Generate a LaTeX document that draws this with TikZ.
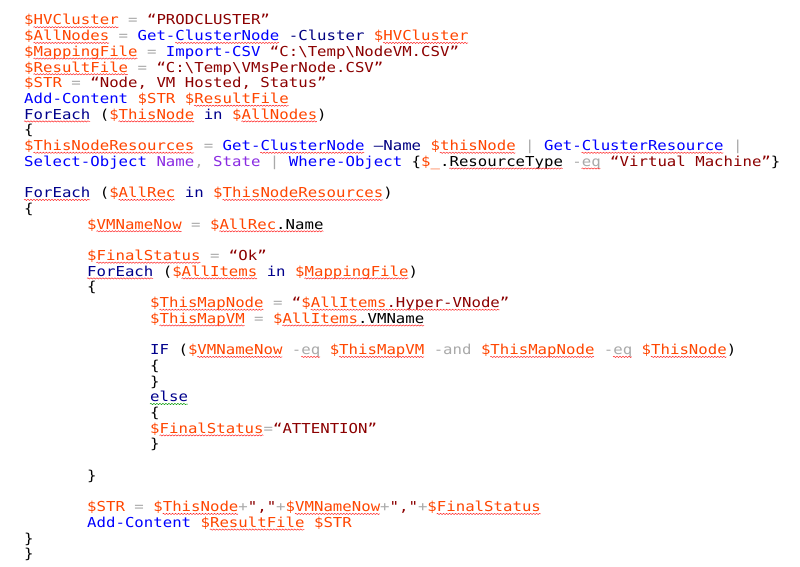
\documentclass[tikz,border=0pt]{standalone}
\usepackage{fontspec}
\usepackage{tikz}
\usetikzlibrary{decorations.pathmorphing}

\newfontfamily\psfont[FakeStretch=1.146]{DejaVu Sans Mono}
\definecolor{psvar}{HTML}{FF4500}
\definecolor{pscmd}{HTML}{0000FF}
\definecolor{pskey}{HTML}{00008B}
\definecolor{psstr}{HTML}{8B0000}
\definecolor{psop}{HTML}{A9A9A9}
\definecolor{psparam}{HTML}{000080}
\definecolor{psarg}{HTML}{8A2BE2}
\newcommand{\cvar}[1]{\textcolor{psvar}{#1}}
\newcommand{\ccmd}[1]{\textcolor{pscmd}{#1}}
\newcommand{\ckey}[1]{\textcolor{pskey}{#1}}
\newcommand{\cstr}[1]{\textcolor{psstr}{#1}}
\newcommand{\cop}[1]{\textcolor{psop}{#1}}
\newcommand{\cpar}[1]{\textcolor{psparam}{#1}}
\newcommand{\carg}[1]{\textcolor{psarg}{#1}}

\tikzset{
  code/.style={anchor=base west, inner sep=0pt, text=black,
    font=\psfont\fontsize{13.7}{15.7}\selectfont\frenchspacing},
  spell/.style={draw=red!85, line width=0.5pt, decorate,
    decoration={snake, amplitude=0.6pt, segment length=3pt}},
  grammar/.style={spell, draw=green!60!black}
}

\begin{document}
\begin{tikzpicture}[x=1pt, y=-1pt]
        \useasboundingbox (0,0) rectangle (800,567);
        % outer script
        \node[code] (l1) at (24,25) {\cvar{\$HVCluster} \cop{=} \cstr{“PRODCLUSTER”}};
        \node[code] (l2) at (24,40.7) {\cvar{\$AllNodes} \cop{=} \ccmd{Get-ClusterNode} \cpar{-Cluster} \cvar{\$HVCluster}};
        \node[code] (l3) at (24,56.4) {\cvar{\$MappingFile} \cop{=} \ccmd{Import-CSV} \cstr{“C:\textbackslash Temp\textbackslash NodeVM.CSV”}};
        \node[code] (l4) at (24,72.1) {\cvar{\$ResultFile} \cop{=} \cstr{“C:\textbackslash Temp\textbackslash VMsPerNode.CSV”}};
        \node[code] (l5) at (24,87.8) {\cvar{\$STR} \cop{=} \cstr{“Node, VM Hosted, Status”}};
        \node[code] (l6) at (24,103.5) {\ccmd{Add-Content} \cvar{\$STR} \cvar{\$ResultFile}};
        \node[code] (l7) at (24,119.2) {\ckey{ForEach} (\cvar{\$ThisNode} \ckey{in} \cvar{\$AllNodes})};
        \node[code] (l8) at (24,134.9) {\{};
        \node[code] (l9) at (24,150.6) {\cvar{\$ThisNodeResources} \cop{=} \ccmd{Get-ClusterNode} \cpar{–Name} \cvar{\$thisNode} \cop{|} \ccmd{Get-ClusterResource} \cop{|}};
        \node[code] (l10) at (24,166.3) {\ccmd{Select-Object} \carg{Name}\cop{,} \carg{State} \cop{|} \ccmd{Where-Object} \{\cvar{\$\_}.ResourceType \cop{-eq} \cstr{“Virtual Machine”}\}};
        % loop over resources
        \node[code] (l12) at (24,197.7) {\ckey{ForEach} (\cvar{\$AllRec} \ckey{in} \cvar{\$ThisNodeResources})};
        \node[code] (l13) at (24,213.4) {\{};
        \node[code] (l14) at (87,229.1) {\cvar{\$VMNameNow} \cop{=} \cvar{\$AllRec}.Name};
        \node[code] (l16) at (87,260.5) {\cvar{\$FinalStatus} \cop{=} \cstr{“Ok”}};
        \node[code] (l17) at (87,276.2) {\ckey{ForEach} (\cvar{\$AllItems} \ckey{in} \cvar{\$MappingFile})};
        \node[code] (l18) at (87,291.9) {\{};
        \node[code] (l19) at (150,307.6) {\cvar{\$ThisMapNode} \cop{=} \cstr{“}\cvar{\$AllItems}\cstr{.Hyper-VNode”}};
        \node[code] (l20) at (150,323.3) {\cvar{\$ThisMapVM} \cop{=} \cvar{\$AllItems}.VMName};
        \node[code] (l22) at (150,354.7) {\ckey{IF} (\cvar{\$VMNameNow} \cop{-eq} \cvar{\$ThisMapVM} \cop{-and} \cvar{\$ThisMapNode} \cop{-eq} \cvar{\$ThisNode})};
        \node[code] (l23) at (150,370.4) {\{};
        \node[code] (l24) at (150,386.1) {\}};
        \node[code] (l25) at (150,401.8) {\ckey{else}};
        \node[code] (l26) at (150,417.5) {\{};
        \node[code] (l27) at (150,433.2) {\cvar{\$FinalStatus}\cop{=}\cstr{“ATTENTION”}};
        \node[code] (l28) at (150,448.9) {\}};
        \node[code] (l30) at (87,480.3) {\}};
        \node[code] (l32) at (87,511.7) {\cvar{\$STR} \cop{=} \cvar{\$ThisNode}\cop{+}\cstr{","}\cop{+}\cvar{\$VMNameNow}\cop{+}\cstr{","}\cop{+}\cvar{\$FinalStatus}};
        \node[code] (l33) at (87,527.4) {\ccmd{Add-Content} \cvar{\$ResultFile} \cvar{\$STR}};
        \node[code] (l34) at (24,543.1) {\}};
        \node[code] (l35) at (24,558.8) {\}};
        % spell check marks: row/indent/first column/last column
        \foreach \r/\i/\a/\b in {1/24/1/10, 2/24/1/9, 2/24/16/27, 2/24/38/47, 3/24/1/12,
            4/24/1/11, 6/24/18/28, 7/24/0/7, 7/24/10/18, 7/24/23/31,
            9/24/1/18, 9/24/25/36, 9/24/44/52, 9/24/59/74, 10/24/45/57, 10/24/59/61,
            12/24/0/7, 12/24/10/16, 12/24/21/38, 14/87/1/10, 14/87/14/25,
            16/87/1/12, 17/87/0/7, 17/87/10/18, 17/87/23/34,
            19/150/1/12, 19/150/17/37, 20/150/1/10, 20/150/14/29,
            22/150/5/14, 22/150/16/18, 22/150/20/29, 22/150/36/47, 22/150/49/51, 22/150/53/61,
            27/150/1/12, 32/87/8/16, 32/87/22/31, 32/87/37/48, 33/87/13/23}
            \draw[spell] ({\i+\a*9.45},{25+(\r-1)*15.7+2.2}) -- ({\i+\b*9.45},{25+(\r-1)*15.7+2.2});
        \draw[grammar] (150,404) -- ({150+4*9.45},404);
    \end{tikzpicture}
\end{document}
